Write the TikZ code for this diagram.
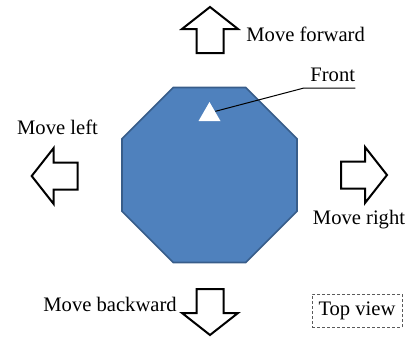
\documentclass[tikz,border=0pt]{standalone}
\usepackage{fontspec}
\setmainfont{Liberation Serif}
\newfontfamily\labelfont{Liberation Serif}
\usetikzlibrary{shapes.geometric}
\definecolor{robotblue}{RGB}{79,129,189}
\definecolor{robotedge}{RGB}{56,93,138}
\definecolor{boxgray}{RGB}{90,90,90}
\tikzset{
  lbl/.style={font=\labelfont\fontsize{10.3}{12}\selectfont, inner sep=0pt},
  bigarrow/.style={draw=black, line width=1pt, fill=white, line join=miter},
}

\begin{document}
\begin{tikzpicture}[x=0.5pt, y=-0.5pt]
\useasboundingbox (0,0) rectangle (407,337);
%--- robot body, seen from above ---
\node[regular polygon, regular polygon sides=8, minimum size=94.7pt, inner sep=0pt,
      fill=robotblue, draw=robotedge, line width=0.8pt] (robot) at (209.5,175) {};
\node[regular polygon, regular polygon sides=3, minimum size=12.7pt, inner sep=0pt,
      fill=white] (mark) at (209.5,114.7) {};
% front label
\node[lbl, anchor=base west] (front) at (310,81.5) {Front};
\coordinate (elbow) at (304,88);
\draw[line width=0.5pt] (mark.side 3) -- (elbow) -- (elbow -| front.east);

%--- moving directions ---
\foreach \px/\py/\ang in {210/7/90, 210/335/-90, 31.7/176/180, 387/175/0}{
  \draw[bigarrow, shift={(\px,\py)}, rotate=\ang]
    (0,0) -- (-22,28) -- (-22,13.5) -- (-46,13.5) -- (-46,-13.5) -- (-22,-13.5) -- (-22,-28) -- cycle;
}
\node[lbl, anchor=base west] (mvfwd) at (246,41.5) {Move forward};
\node[lbl, anchor=base] (mvleft) at (57.5,134.5) {Move left};
\node[lbl, anchor=base] (mvright) at (359,224.5) {Move right};
\node[lbl, anchor=base west] (mvback) at (43,311.7) {Move backward};

%--- view note ---
\node[lbl, draw=boxgray, dash pattern=on 1.5pt off 1pt, line width=0.4pt,
      minimum width=45pt, minimum height=16.5pt] (view) at (357,310.5) {Top view};
\end{tikzpicture}
\end{document}
